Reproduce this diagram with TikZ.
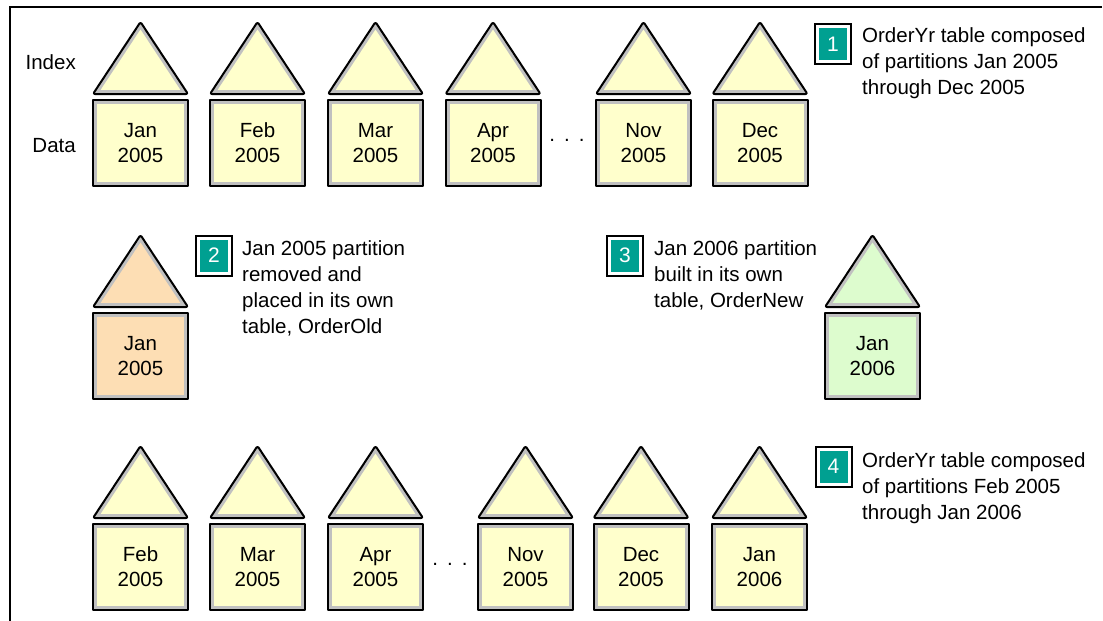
\documentclass[tikz,border=0pt]{standalone}
\usepackage{fontspec}
\setmainfont{Liberation Sans}
\definecolor{ylw}{RGB}{255,255,204}
\definecolor{org}{RGB}{253,222,180}
\definecolor{grn}{RGB}{221,252,206}
\definecolor{teal}{RGB}{0,160,145}
\definecolor{band}{RGB}{192,192,192}
\tikzset{
  outline/.style={draw=black, line width=2, line join=round},
  bandline/.style={draw=band, line width=8, line join=round},
  boxtext/.style={font=\fontsize{20.5}{25}\selectfont, align=center, inner sep=0},
  note/.style={font=\fontsize{20.5}{26}\selectfont, align=left, anchor=north west, inner sep=0},
  rowlabel/.style={font=\fontsize{20.5}{25}\selectfont, anchor=base east, inner sep=0},
  marker/.style={fill=teal, draw=white, line width=3, preaction={draw=black, line width=7},
    minimum width=31, minimum height=35, inner sep=0, text=white,
    font=\fontsize{21}{21}\selectfont},
  frame/.style={draw=black, line width=2},
  % one partition: index triangle above a data box; origin at the top centre of the box
  pics/partition/.style args={#1/#2/#3}{code={
    \begin{scope}
      \clip[rounded corners=2] (-47.5,-6) -- (0,-78) -- (47.5,-6) -- cycle;
      \fill[#1] (-50,-80) rectangle (50,0);
      \draw[bandline, rounded corners=2] (-47.5,-6) -- (0,-78) -- (47.5,-6) -- cycle;
    \end{scope}
    \draw[outline, rounded corners=2] (-47.5,-6) -- (0,-78) -- (47.5,-6) -- cycle;
    \begin{scope}
      \clip (-47.5,0) rectangle (47.5,86);
      \fill[#1] (-47.5,0) rectangle (47.5,86);
      \draw[bandline] (-47.5,0) rectangle (47.5,86);
    \end{scope}
    \draw[outline] (-47.5,0) rectangle (47.5,86);
    \node[boxtext] (-lbl) at (0,43) {#2\\#3};
  }}
}
\begin{document}
\begin{tikzpicture}[x=1pt, y=-1pt]
\useasboundingbox (0,0) rectangle (1103,621);

% page frame
\coordinate (fr1) at (1102,7);
\coordinate (fr2) at (10,7);
\coordinate (fr3) at (10,621);
\draw[frame] (fr1) -- (fr2) -- (fr3);

% step 1: full year 2005
\node[rowlabel] (lindex) at (76,69) {Index};
\node[rowlabel] (ldata) at (76,152) {Data};
\pic (ajan) at (140.5,100) {partition={ylw/Jan/2005}};
\pic (afeb) at (257.5,100) {partition={ylw/Feb/2005}};
\pic (amar) at (375.5,100) {partition={ylw/Mar/2005}};
\pic (aapr) at (493,100)   {partition={ylw/Apr/2005}};
\node[boxtext, anchor=base] (adots) at (567,141) {.\hspace{9pt}.\hspace{9pt}.};
\pic (anov) at (643.5,100) {partition={ylw/Nov/2005}};
\pic (adec) at (760,100)   {partition={ylw/Dec/2005}};
\node[marker] (m1) at (833,44) {1};
\node[note] (n1) at (862,27) {OrderYr table composed\\of partitions Jan 2005\\through Dec 2005};

% step 2: removed partition
\pic (old) at (140.5,313) {partition={org/Jan/2005}};
\node[marker] (m2) at (214,255.5) {2};
\node[note] (n2) at (242,240) {Jan 2005 partition\\removed and\\placed in its own\\table, OrderOld};

% step 3: new partition
\node[marker] (m3) at (625,255.5) {3};
\node[note] (n3) at (654,240) {Jan 2006 partition\\built in its own\\table, OrderNew};
\pic (new) at (872.5,313) {partition={grn/Jan/2006}};

% step 4: rolled year
\pic (bfeb) at (140.5,524) {partition={ylw/Feb/2005}};
\pic (bmar) at (257.5,524) {partition={ylw/Mar/2005}};
\pic (bapr) at (375.5,524) {partition={ylw/Apr/2005}};
\node[boxtext, anchor=base] (bdots) at (450,565) {.\hspace{9pt}.\hspace{9pt}.};
\pic (bnov) at (525.5,524) {partition={ylw/Nov/2005}};
\pic (bdec) at (641,524)   {partition={ylw/Dec/2005}};
\pic (bjan) at (759.5,524) {partition={ylw/Jan/2006}};
\node[marker] (m4) at (833.5,466.5) {4};
\node[note] (n4) at (862,452) {OrderYr table composed\\of partitions Feb 2005\\through Jan 2006};
\end{tikzpicture}
\end{document}
